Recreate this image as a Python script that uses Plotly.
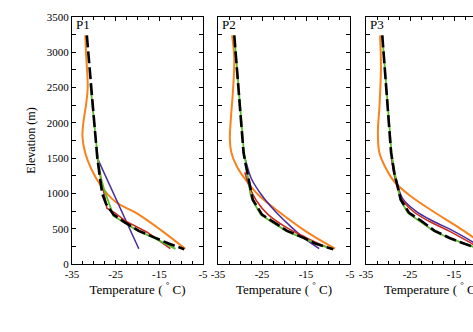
import plotly.graph_objects as go

# ---------------- data ----------------
panel_labels = ["P1", "P2", "P3"]
x_tick_vals = [-35, -25, -15, -5]
y_tick_vals = [0, 500, 1000, 1500, 2000, 2500, 3000, 3500]

# Panel 1
p1_black_E = [3240, 3000, 2500, 2000, 1500, 1200, 1000, 850, 700, 585, 470, 370, 290, 210]
p1_black_T = [-31.6, -31.3, -30.6, -29.9, -29.2, -28.6, -28.1, -27.2, -25.5, -22.8, -19.7, -15.9, -12.9, -9.3]
p1_green_E = [2550, 2000, 1500, 1200, 1070, 680, 600, 470, 370, 290, 215]
p1_green_T = [-30.8, -29.9, -29.1, -28.3, -27.7, -25.5, -23.3, -19.9, -16.2, -13.5, -11.3]
p1_red_E = [1500, 1200, 930, 790, 720, 610, 450, 370, 290, 217]
p1_red_T = [-29.2, -28.4, -27.4, -27.0, -25.1, -22.8, -17.8, -15.9, -14.1, -12.5]
p1_purple_E = [1500, 1200, 900, 600, 217]
p1_purple_T = [-29.2, -27.0, -24.8, -22.6, -19.7]
p1_orange_E = [3240, 3000, 2500, 2250, 2000, 1800, 1580, 1350, 1120, 885, 700, 470, 215]
p1_orange_T = [-31.95, -31.8, -31.4, -31.8, -32.4, -32.6, -32.0, -30.6, -28.5, -25.1, -19.7, -14.4, -9.05]

# Panel 2
p2_black_E = [3240, 3000, 2500, 2000, 1580, 1440, 980, 910, 700, 585, 470, 370, 290, 210]
p2_black_T = [-31.3, -31.0, -30.4, -29.7, -29.2, -28.8, -27.4, -27.1, -25.0, -22.0, -19.3, -15.5, -12.9, -8.8]
p2_green_E = [3240, 3000, 2500, 2000, 1580, 1440, 980, 910, 700, 585, 470, 370, 290, 210]
p2_green_T = [-31.3, -31.0, -30.4, -29.7, -29.1, -28.7, -27.6, -27.2, -25.3, -22.5, -19.5, -15.8, -12.8, -9.0]
p2_red_E = [1300, 1100, 900, 700, 500, 400, 300, 210]
p2_red_T = [-28.9, -27.9, -26.3, -23.6, -19.0, -15.8, -12.5, -9.0]
p2_purple_E = [1550, 1438, 1208, 978, 747, 516, 355, 217]
p2_purple_T = [-29.1, -28.6, -27.4, -25.1, -22.0, -18.2, -15.2, -12.0]
p2_orange_E = [3240, 2914, 2452, 2037, 1761, 1577, 1393, 1208, 978, 747, 470, 217]
p2_orange_T = [-31.8, -31.3, -31.6, -32.1, -32.3, -31.95, -30.8, -28.9, -25.8, -21.3, -15.2, -8.4]

# Panel 3
p3_black_E = [3240, 3000, 2500, 2000, 1577, 1300, 1023, 910, 724, 609, 470, 369, 286, 249, 210]
p3_black_T = [-31.3, -31.0, -30.4, -29.8, -29.3, -28.6, -27.5, -27.1, -25.2, -22.4, -19.4, -16.0, -12.6, -10.7, -8.8]
p3_green_E = [3240, 3000, 2500, 2000, 1577, 1300, 1023, 910, 724, 609, 470, 369, 286, 249, 210]
p3_green_T = [-31.3, -31.0, -30.4, -29.8, -29.2, -28.5, -27.6, -27.2, -25.5, -22.8, -19.7, -16.2, -12.8, -10.9, -9.0]
p3_red_E = [1500, 1300, 1100, 931, 747, 609, 470, 309, 210]
p3_red_T = [-29.2, -28.7, -27.9, -27.0, -24.3, -20.8, -16.2, -11.5, -8.8]
p3_purple_E = [1500, 1300, 1116, 931, 747, 609, 470, 309, 210]
p3_purple_T = [-29.1, -28.6, -27.8, -26.7, -23.6, -19.8, -15.2, -10.7, -8.5]
p3_orange_E = [3240, 2776, 2222, 1853, 1577, 1346, 1162, 978, 747, 539, 378, 210]
p3_orange_T = [-31.8, -31.6, -31.95, -32.3, -31.95, -30.4, -28.5, -25.2, -19.8, -14.5, -10.7, -7.6]

panels = [
    dict(orange=(p1_orange_T, p1_orange_E), purple=(p1_purple_T, p1_purple_E),
         red=(p1_red_T, p1_red_E), green=(p1_green_T, p1_green_E), black=(p1_black_T, p1_black_E),
         smooth=False),
    dict(orange=(p2_orange_T, p2_orange_E), purple=(p2_purple_T, p2_purple_E),
         red=(p2_red_T, p2_red_E), green=(p2_green_T, p2_green_E), black=(p2_black_T, p2_black_E),
         smooth=True),
    dict(orange=(p3_orange_T, p3_orange_E), purple=(p3_purple_T, p3_purple_E),
         red=(p3_red_T, p3_red_E), green=(p3_green_T, p3_green_E), black=(p3_black_T, p3_black_E),
         smooth=True),
]

colors = dict(orange="#f7821e", purple="#4a2b9c", red="#c8281e", green="#5dbb2e", black="#000000")
widths = dict(orange=2.0, purple=1.5, red=1.5, green=1.8, black=2.6)

# ---------------- layout geometry ----------------
W, H = 520, 332
L, R, T, B = 72, 22, 11, 68
pw = W - L - R
domains = [[0, 131 / pw], [(218 - L) / pw, (350 - L) / pw], [(366 - L) / pw, 1.0]]

fig = go.Figure()
FONT = "Liberation Serif, 'Times New Roman', 'DejaVu Serif', serif"

for i, p in enumerate(panels):
    xa = "x" if i == 0 else f"x{i+1}"
    ya = "y" if i == 0 else f"y{i+1}"
    for key in ["orange", "purple", "red", "green", "black"]:
        tx, ey = p[key]
        shape = "linear"
        if key == "orange" or (p["smooth"] and key in ("purple", "red")):
            shape = "spline"
        line = dict(color=colors[key], width=widths[key], shape=shape)
        if key == "black":
            line["dash"] = "12px,4px"
        fig.add_trace(go.Scatter(x=tx, y=ey, mode="lines", line=line,
                                 xaxis=xa, yaxis=ya, showlegend=False, hoverinfo="skip"))

    axis_common = dict(showline=True, linecolor="black", linewidth=1, mirror="allticks",
                       ticks="inside", ticklen=4, tickcolor="black", showgrid=False,
                       zeroline=False, tickfont=dict(family=FONT, size=11, color="black"))
    xkey = "xaxis" if i == 0 else f"xaxis{i+1}"
    ykey = "yaxis" if i == 0 else f"yaxis{i+1}"
    fig.layout[xkey] = dict(
        domain=domains[i], range=[-35, -5], anchor=ya,
        tickmode="array", tickvals=x_tick_vals, ticktext=[str(v) for v in x_tick_vals],
        minor=dict(tickmode="linear", tick0=-35, dtick=2.5, ticks="inside", ticklen=3, tickcolor="black"),
        title=dict(text="Temperature ( <sup>°</sup> C)", font=dict(family=FONT, size=13, color="black"),
                   standoff=5),
        **axis_common)
    ydict = dict(
        domain=[0, 1], range=[0, 3500], anchor=xa,
        tickmode="array", tickvals=y_tick_vals, ticktext=[str(v) for v in y_tick_vals],
        showticklabels=(i == 0),
        minor=dict(tickmode="linear", tick0=0, dtick=250, ticks="inside", ticklen=4, tickcolor="black"),
        **axis_common)
    if i == 0:
        ydict["title"] = dict(text="Elevation (m)", font=dict(family=FONT, size=12, color="black"),
                              standoff=8)
    fig.layout[ykey] = ydict
    fig.add_annotation(text=panel_labels[i], xref=f"{xa} domain", yref=f"{ya} domain",
                       x=0.015, y=1.01, xanchor="left", yanchor="top", showarrow=False,
                       font=dict(family=FONT, size=13, color="black"))

fig.update_layout(width=W, height=H, margin=dict(l=L, r=R, t=T, b=B),
                  paper_bgcolor="white", plot_bgcolor="white",
                  font=dict(family=FONT, color="black"))

fig.write_html("out.html",
               post_script="document.documentElement.style.overflow='hidden';document.body.style.overflow='hidden';document.body.style.margin='0';")
